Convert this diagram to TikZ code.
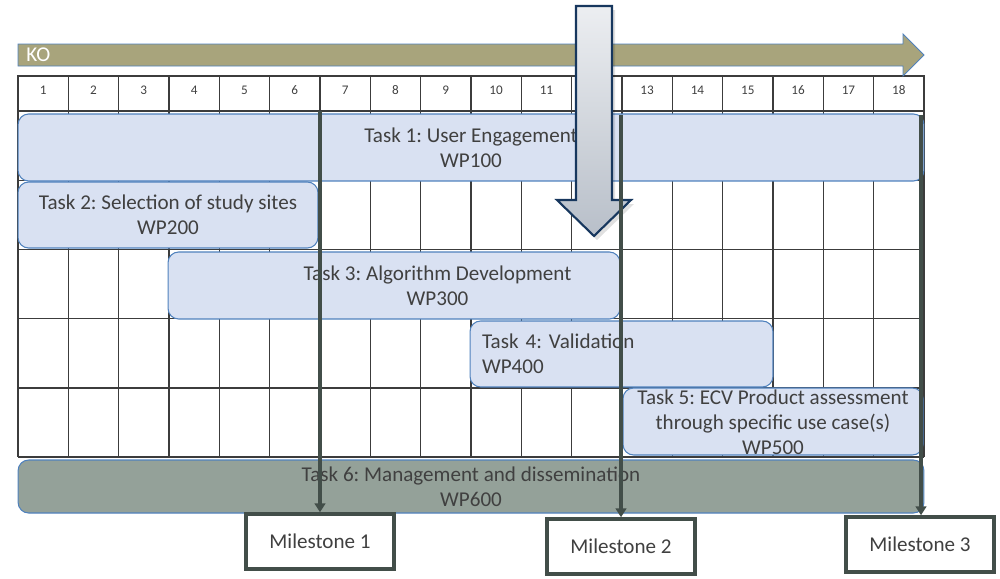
\documentclass[tikz,border=0pt]{standalone}
\usepackage{fontspec}
\setmainfont{Carlito}
\usetikzlibrary{positioning,arrows.meta,calc}

\definecolor{koolive}{RGB}{168,164,124}
\definecolor{taskfill}{RGB}{217,225,242}
\definecolor{taskline}{RGB}{79,129,189}
\definecolor{mgmtfill}{RGB}{148,161,153}
\definecolor{msline}{RGB}{66,78,73}
\definecolor{gridline}{RGB}{60,60,60}
\definecolor{txt}{RGB}{64,64,64}
\definecolor{navy}{RGB}{23,55,94}
\definecolor{arrowtop}{RGB}{236,238,241}
\definecolor{arrowbot}{RGB}{184,191,201}

\frenchspacing

\begin{document}
\begin{tikzpicture}[x=0.02cm, y=-0.02cm,
    monthcell/.style={
        draw=gridline,
        line width=0.8pt,
        minimum width=1.0066cm,
        text height=10.2pt,
        text depth=9.6pt,
        inner sep=0pt,
        text=txt,
        font=\fontsize{7.5}{9}\selectfont
    },
    task/.style={
        draw=taskline,
        line width=0.6pt,
        fill=taskfill,
        rounded corners=6pt,
        inner sep=0pt,
        align=center,
        text=txt,
        font=\fontsize{12}{14.3}\selectfont
    },
    tasktext/.style={inner sep=0pt, align=center, text=txt, font=\fontsize{12}{14.3}\selectfont},
    milestone/.style={
        draw=msline,
        line width=2pt,
        fill=white,
        minimum width=2.96cm,
        minimum height=1.1cm,
        text=txt,
        font=\fontsize{12}{14}\selectfont
    },
    msarrow/.style={draw=msline, line width=1.9pt, -{Triangle[length=5pt,width=6pt]}}
]
    \useasboundingbox (0,0) rectangle (1000,578);

    % month grid
    \foreach \i in {0,...,18}
        \draw[gridline, line width=0.8pt] ({18+50.33*\i},111) -- ({18+50.33*\i},457);
    \foreach \j in {0,...,5}
        \draw[gridline, line width=0.8pt] (18,{111+69.2*\j}) -- (924,{111+69.2*\j});
    \foreach \i in {1,...,18}
        \node[monthcell] (mo\i) at ({18+50.33*(\i-0.5)},93.5) {\i};

    % kick-off arrow
    \fill[koolive, draw=taskline, line width=0.5pt]
        (18,44) -- (903,44) -- (903,34) -- (924,55) -- (903,76) -- (903,66) -- (18,66) -- cycle;
    \node[text=white, anchor=west, inner sep=0pt, font=\fontsize{12}{14}\selectfont] (ko) at (26,55) {KO};

    % work packages
    \node[task, minimum width=18.12cm, minimum height=1.34cm] (t1) at (471,147.5) {Task 1: User Engagement\\WP100};
    \node[task, minimum width=6cm, minimum height=1.32cm] (t2) at (168,215) {Task 2: Selection of study sites\\WP200};
    \node[task, minimum width=9.04cm, minimum height=1.34cm] (t3) at (394,285.5) {};
    \node[tasktext] (t3txt) at (437.5,285.5) {Task 3: Algorithm Development\\WP300};
    \node[task, text width=5.58cm, inner xsep=0.24cm, align=left, minimum height=1.32cm] (t4) at (621.5,354) {Task 4: Validation\\WP400};
    \node[task, minimum width=6cm, minimum height=1.34cm] (t5) at (773,421.5) {};
    \node[tasktext] (t5txt) at (773,422) {Task 5: ECV Product assessment\\through specific use case(s)\\WP500};
    \node[task, fill=mgmtfill, minimum width=18.12cm, minimum height=1.06cm] (t6) at (471,486.5) {Task 6: Management and dissemination\\WP600};

    % big down arrow
    \fill[black, opacity=0.12]
        (579,10) -- (615,10) -- (615,204) -- (634,204) -- (597,240) -- (560,204) -- (579,204) -- cycle;
    \path[top color=arrowtop, bottom color=arrowbot, draw=navy, line width=1.2pt]
        (576,6) -- (612,6) -- (612,200) -- (631,200) -- (594,236) -- (557,200) -- (576,200) -- cycle;

    % milestones
    \node[milestone] (ms1) at (320,541.5) {Milestone 1};
    \node[milestone] (ms2) at (621,546.5) {Milestone 2};
    \node[milestone] (ms3) at (920,544.5) {Milestone 3};
    \coordinate (ms1top) at (320,111);
    \coordinate (ms2top) at (621,115);
    \coordinate (ms3top) at (921,115);

    \draw[msarrow] (ms1top) -- (ms1top |- ms1.north);
    \draw[msarrow] (ms2top) -- (ms2top |- ms2.north);
    \draw[msarrow] (ms3top) -- (ms3top |- ms3.north);
\end{tikzpicture}
\end{document}
